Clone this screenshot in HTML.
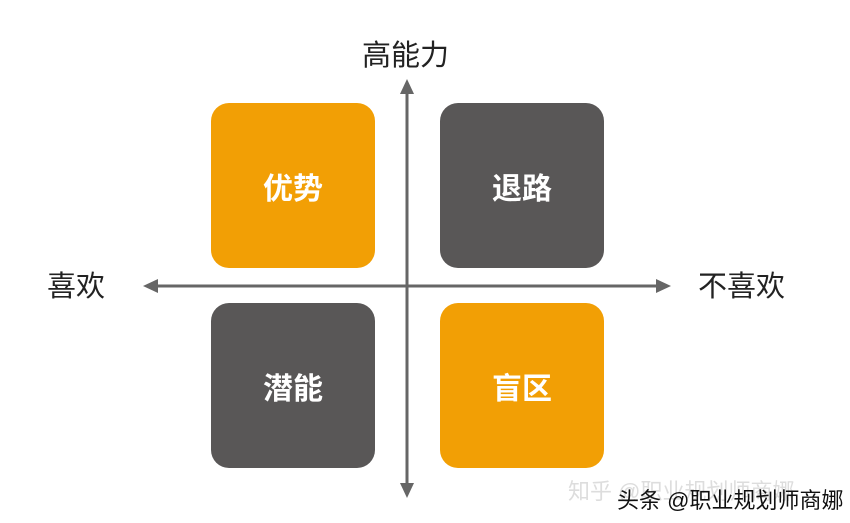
<!DOCTYPE html>
<html><head><meta charset="utf-8"><style>
html,body{margin:0;padding:0;background:#fff;}
body{width:850px;height:523px;position:relative;overflow:hidden;font-family:"Liberation Sans","Noto Sans CJK SC",sans-serif;}
.b{position:absolute;width:164px;height:165px;border-radius:18px;color:#fff;font-weight:bold;font-size:30px;display:flex;align-items:center;justify-content:center;}
.o{background:#f29f05;}
.d{background:#595757;}
.t{position:absolute;font-size:29px;color:#222;line-height:1;}
</style></head><body>
<svg width="850" height="523" style="position:absolute;left:0;top:0">
<line x1="407" y1="92" x2="407" y2="486" stroke="#666" stroke-width="3"/>
<line x1="156" y1="286" x2="658" y2="286" stroke="#666" stroke-width="3"/>
<polygon points="407,79 400,94 414,94" fill="#666"/>
<polygon points="407,498 400,483 414,483" fill="#666"/>
<polygon points="143,286 158,279 158,293" fill="#666"/>
<polygon points="671,286 656,279 656,293" fill="#666"/>
</svg>
<div class="b o" style="left:211px;top:103px">优势</div>
<div class="b d" style="left:440px;top:103px">退路</div>
<div class="b d" style="left:211px;top:303px">潜能</div>
<div class="b o" style="left:440px;top:303px">盲区</div>
<div class="t" style="left:362px;top:42px">高能力</div>
<div class="t" style="left:47px;top:273px">喜欢</div>
<div class="t" style="left:698px;top:273px">不喜欢</div>
<div style="position:absolute;left:568px;top:474px;font-size:22px;color:#ddd;">知乎 @职业规划师商娜</div>
<div style="position:absolute;left:617px;top:483px;font-size:22px;color:#111;">头条 @职业规划师商娜</div>
</body></html>
